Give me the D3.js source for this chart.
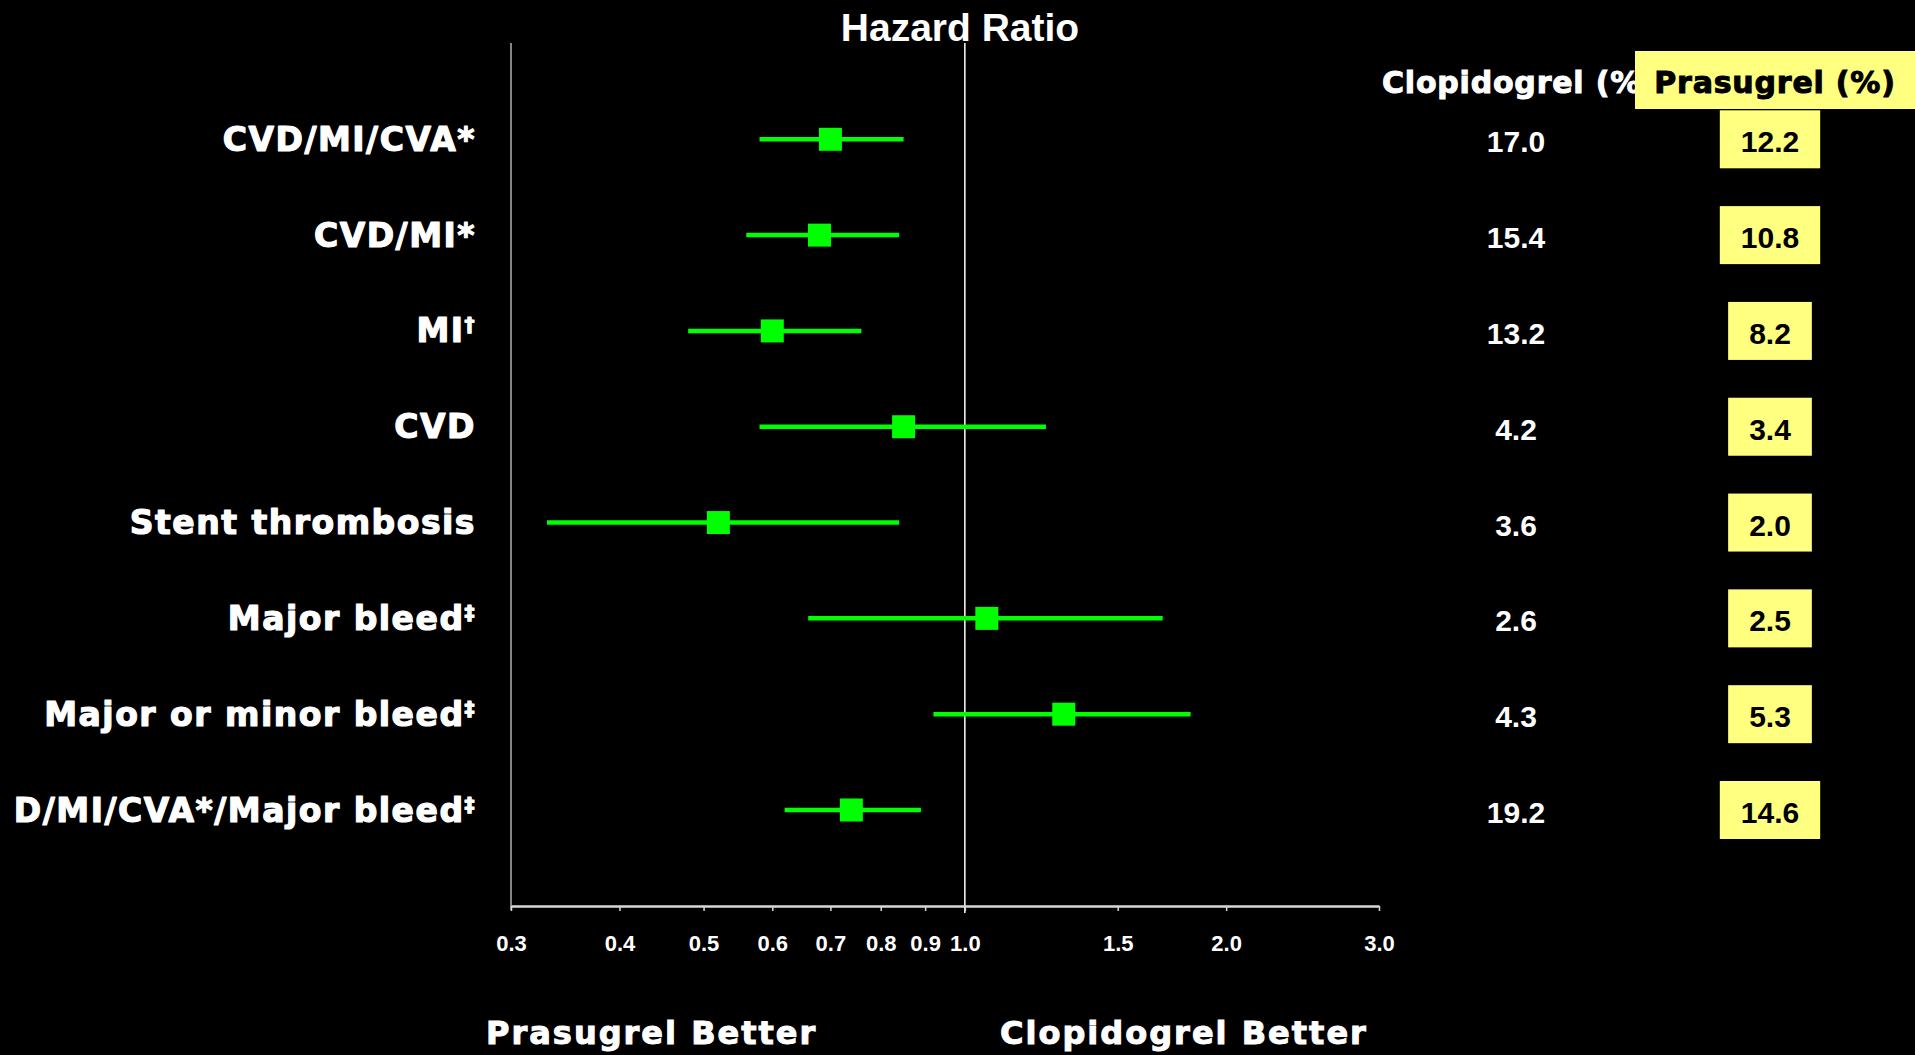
<!DOCTYPE html>
<html>
<head>
<meta charset="utf-8">
<script src="https://cdn.jsdelivr.net/npm/d3@7"></script>
<style>
  html, body { margin: 0; padding: 0; background: #000; overflow: hidden; }
  svg { display: block; }
</style>
</head>
<body>
<svg id="chart" width="1915" height="1055"></svg>
<script>
// Outcome rows, top to bottom
const categories = [
  "CVD/MI/CVA*",
  "CVD/MI*",
  "MI†",
  "CVD",
  "Stent thrombosis",
  "Major bleed‡",
  "Major or minor bleed‡",
  "D/MI/CVA*/Major bleed‡"
];
// Hazard ratios with 95% confidence limits
const hazardRatio = [0.70, 0.68, 0.60, 0.85, 0.52, 1.06, 1.30, 0.74];
const ciLower     = [0.58, 0.56, 0.48, 0.58, 0.33, 0.66, 0.92, 0.62];
const ciUpper     = [0.85, 0.84, 0.76, 1.24, 0.84, 1.69, 1.82, 0.89];
// Event rates (%)
const clopidogrelRate = ["17.0", "15.4", "13.2", "4.2", "3.6", "2.6", "4.3", "19.2"];
const prasugrelRate   = ["12.2", "10.8", "8.2", "3.4", "2.0", "2.5", "5.3", "14.6"];
// Axis tick values
const tickValues = [0.3, 0.4, 0.5, 0.6, 0.7, 0.8, 0.9, 1.0, 1.5, 2.0, 3.0];

const svg = d3.select("#chart");
const heavy = "'DejaVu Sans', sans-serif";
const arial = "'Liberation Sans', Arial, sans-serif";

const x = d3.scaleLog().domain([0.3, 3.0]).range([511, 1379]);
const y = d3.scalePoint().domain(categories).range([139.3, 810]);
const axisY = 906;
const plotTop = 43;

// Title
svg.append("text")
  .attr("x", 960).attr("y", 41)
  .attr("text-anchor", "middle")
  .attr("font-family", arial).attr("font-weight", "bold").attr("font-size", 39)
  .attr("fill", "#fff")
  .text("Hazard Ratio");

// Left frame line and reference line at HR = 1
svg.append("line")
  .attr("x1", x(0.3)).attr("x2", x(0.3))
  .attr("y1", plotTop).attr("y2", axisY + 4)
  .attr("stroke", "#b0b0b0").attr("stroke-width", 1.5);
svg.append("line")
  .attr("x1", x(1)).attr("x2", x(1))
  .attr("y1", plotTop).attr("y2", axisY + 7)
  .attr("stroke", "#fff").attr("stroke-width", 1.5);

// Log axis
const axis = d3.axisBottom(x)
  .tickValues(tickValues)
  .tickFormat(d3.format(".1f"))
  .tickSize(5)
  .tickSizeOuter(0);
const gAxis = svg.append("g")
  .attr("transform", `translate(0,${axisY})`)
  .call(axis);
gAxis.select(".domain").attr("stroke", "#d8d8d8").attr("stroke-width", 2.5);
gAxis.selectAll(".tick line").attr("stroke", "#d8d8d8").attr("stroke-width", 1.5);
gAxis.selectAll(".tick text")
  .attr("y", 29)
  .attr("fill", "#fff")
  .attr("font-family", arial).attr("font-weight", "bold").attr("font-size", 22);

// Row labels
const labels = svg.append("g");
categories.forEach((c, i) => {
  const m = c.match(/^(.*?)([†‡]?)$/);
  const t = labels.append("text")
    .attr("x", 476).attr("y", y(c) + 11.5)
    .attr("text-anchor", "end")
    .attr("font-family", heavy).attr("font-weight", "bold").attr("font-size", 33)
    .attr("letter-spacing", 1.5)
    .attr("fill", "#fff").attr("stroke", "#fff").attr("stroke-width", 1.2)
    .attr("stroke-linejoin", "round");
  t.append("tspan").text(m[1]);
  if (m[2]) {
    t.append("tspan").attr("font-size", 20).attr("dy", -11).text(m[2]);
  }
});

// Confidence intervals and point estimates
const green = "#00ff00";
const marks = svg.append("g");
marks.selectAll("line.ci")
  .data(categories)
  .join("line")
  .attr("class", "ci")
  .attr("x1", (d, i) => x(ciLower[i]))
  .attr("x2", (d, i) => x(ciUpper[i]))
  .attr("y1", d => y(d)).attr("y2", d => y(d))
  .attr("stroke", green).attr("stroke-width", 4.5);
const sq = 23;
marks.selectAll("rect.hr")
  .data(categories)
  .join("rect")
  .attr("class", "hr")
  .attr("x", (d, i) => x(hazardRatio[i]) - sq / 2)
  .attr("y", d => y(d) - sq / 2)
  .attr("width", sq).attr("height", sq)
  .attr("fill", green);

// Event rate columns
const colClop = 1516, colPras = 1770;
svg.append("text")
  .attr("x", 1382).attr("y", 93)
  .attr("font-family", heavy).attr("font-weight", "bold").attr("font-size", 30)
  .attr("letter-spacing", 0.8)
  .attr("fill", "#fff").attr("stroke", "#fff").attr("stroke-width", 1)
  .text("Clopidogrel (%)");
svg.append("rect")
  .attr("x", 1635).attr("y", 51).attr("width", 300).attr("height", 58)
  .attr("fill", "#ffff80");
svg.append("text")
  .attr("x", 1775).attr("y", 93)
  .attr("text-anchor", "middle")
  .attr("font-family", heavy).attr("font-weight", "bold").attr("font-size", 30)
  .attr("letter-spacing", 0.8)
  .attr("fill", "#000").attr("stroke", "#000").attr("stroke-width", 1)
  .text("Prasugrel (%)");

svg.append("g").selectAll("text")
  .data(categories)
  .join("text")
  .attr("x", colClop).attr("y", d => y(d) + 13)
  .attr("text-anchor", "middle")
  .attr("font-family", arial).attr("font-weight", "bold").attr("font-size", 30)
  .attr("fill", "#fff")
  .text((d, i) => clopidogrelRate[i]);

const pras = svg.append("g");
categories.forEach((c, i) => {
  const g = pras.append("g");
  const t = g.append("text")
    .attr("x", colPras).attr("y", y(c) + 13)
    .attr("text-anchor", "middle")
    .attr("font-family", arial).attr("font-weight", "bold").attr("font-size", 30)
    .attr("fill", "#000")
    .text(prasugrelRate[i]);
  const w = t.node().getComputedTextLength();
  g.insert("rect", "text")
    .attr("x", colPras - w / 2 - 21).attr("y", y(c) - 29)
    .attr("width", w + 42).attr("height", 58)
    .attr("fill", "#ffff80");
});

// Direction labels
const dirLabel = (txt, x0) => svg.append("text")
  .attr("x", x0).attr("y", 1044)
  .attr("font-family", heavy).attr("font-weight", "bold").attr("font-size", 32)
  .attr("letter-spacing", 2)
  .attr("fill", "#fff").attr("stroke", "#fff").attr("stroke-width", 1)
  .text(txt);
dirLabel("Prasugrel Better", 486);
dirLabel("Clopidogrel Better", 1000);
</script>
</body>
</html>
